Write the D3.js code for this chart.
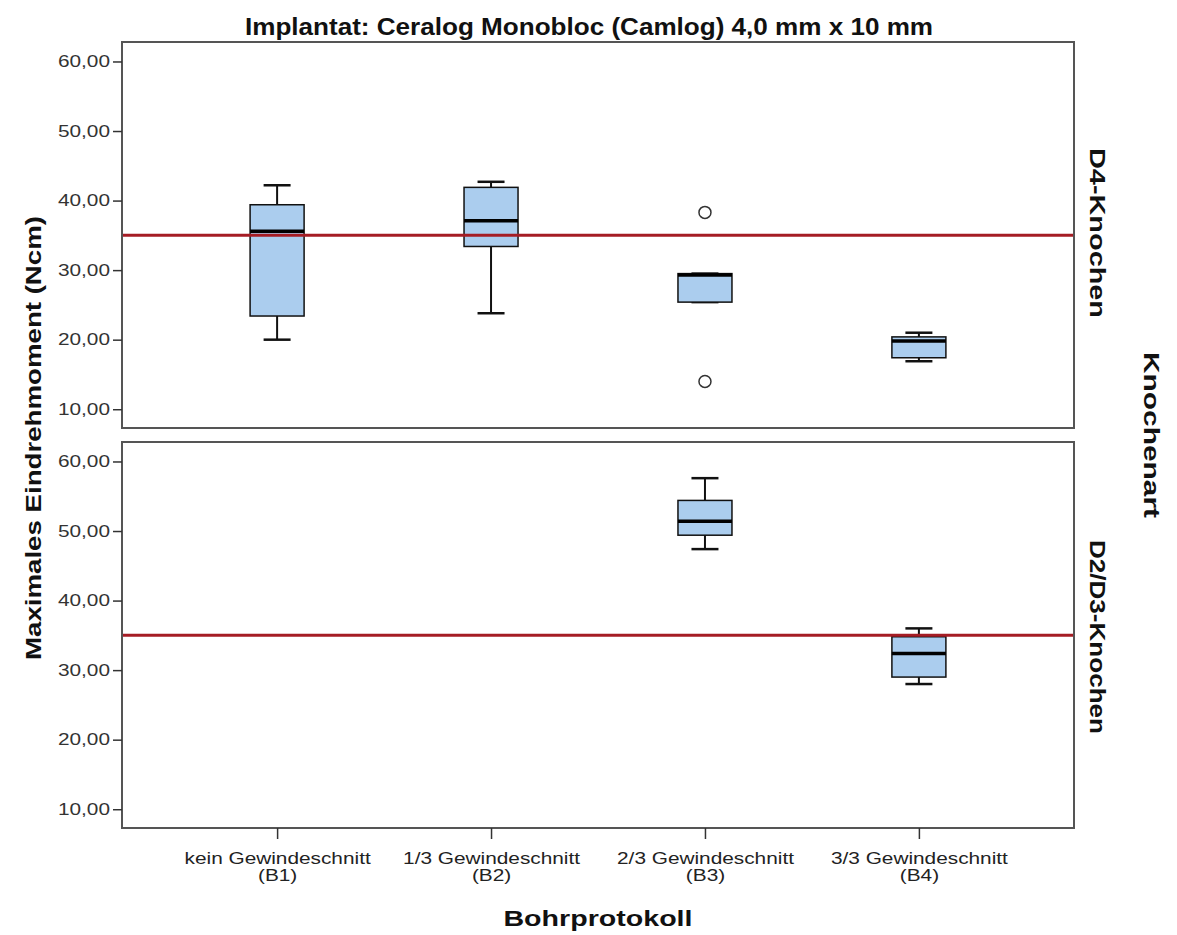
<!DOCTYPE html>
<meta charset="utf-8">
<style>
body { margin: 0; background: #fff; }
svg { font-family: "Liberation Sans", Arial, sans-serif; }
</style>
<body>
<svg width="1177" height="935"></svg>
<script src="https://d3js.org/d3.v7.min.js"></script>
<script>

var categories = ["kein Gewindeschnitt", "1/3 Gewindeschnitt", "2/3 Gewindeschnitt", "3/3 Gewindeschnitt"];
var catCodes = ["(B1)", "(B2)", "(B3)", "(B4)"];
var panelNames = ["D4-Knochen", "D2/D3-Knochen"];
var yTicks = [10, 20, 30, 40, 50, 60];
var refValue = 35;

// D4-Knochen
var d4Low = [20.0, 23.8, 25.4, 16.9];
var d4Q1 = [23.4, 33.4, 25.4, 17.4];
var d4Med = [35.6, 37.1, 29.3, 19.8];
var d4Q3 = [39.4, 41.9, 29.5, 20.4];
var d4High = [42.2, 42.7, 29.5, 21.0];
var d4Outliers = [[], [], [38.3, 14.0], []];

// D2/D3-Knochen
var d23Low = [null, null, 47.4, 28.0];
var d23Q1 = [null, null, 49.4, 29.0];
var d23Med = [null, null, 51.4, 32.4];
var d23Q3 = [null, null, 54.4, 34.8];
var d23High = [null, null, 57.6, 36.0];
var d23Outliers = [[], [], [], []];

var svg = d3.select("svg"),
    left = 122, right = 1074,
    panelTops = [42, 442], panelH = 386;

var x = d3.scalePoint().domain(categories).range([left, right]).padding(0.725);
var boxW = 54;

// the original text is drawn wider than Liberation Sans, stretch it a bit
function stretch(sel, f) {
  sel.each(function() {
    var w = this.getComputedTextLength();
    d3.select(this).attr("textLength", w * f).attr("lengthAdjust", "spacingAndGlyphs");
  });
}

function stats(low, q1, med, q3, high, out) {
  return categories.map(function(c, i) {
    return {cat: c, low: low[i], q1: q1[i], med: med[i], q3: q3[i], high: high[i], out: out[i]};
  });
}
var panelData = [
  stats(d4Low, d4Q1, d4Med, d4Q3, d4High, d4Outliers),
  stats(d23Low, d23Q1, d23Med, d23Q3, d23High, d23Outliers)
];

panelData.forEach(function(data, p) {
  var top = panelTops[p];
  var y = d3.scaleLinear().domain([7.3, 62.8]).range([top + panelH, top]);
  var g = svg.append("g");

  g.append("rect")
      .attr("x", left).attr("y", top)
      .attr("width", right - left).attr("height", panelH)
      .attr("fill", "#fff").attr("stroke", "#555").attr("stroke-width", 2);

  g.append("g")
      .attr("transform", "translate(" + left + ",0)")
      .call(d3.axisLeft(y).tickValues(yTicks).tickSize(9).tickPadding(3)
        .tickFormat(function(d) { return d3.format(".2f")(d).replace(".", ","); }))
      .call(function(a) {
        a.select(".domain").remove();
        a.selectAll(".tick line").attr("stroke", "#333").attr("stroke-width", 1.5);
        a.selectAll(".tick text").attr("font-size", 16).attr("fill", "#333")
          .attr("font-family", "Liberation Sans, Arial, sans-serif")
          .call(stretch, 1.3);
      });

  var boxes = g.selectAll(".box")
      .data(data.filter(function(d) { return d.med != null; }))
      .enter().append("g")
      .attr("class", "box");

  boxes.append("line")
      .attr("x1", function(d) { return x(d.cat); })
      .attr("x2", function(d) { return x(d.cat); })
      .attr("y1", function(d) { return y(d.high); })
      .attr("y2", function(d) { return y(d.low); })
      .attr("stroke", "#111").attr("stroke-width", 2);

  ["high", "low"].forEach(function(k) {
    boxes.append("line")
        .attr("x1", function(d) { return x(d.cat) - boxW / 4; })
        .attr("x2", function(d) { return x(d.cat) + boxW / 4; })
        .attr("y1", function(d) { return y(d[k]); })
        .attr("y2", function(d) { return y(d[k]); })
        .attr("stroke", "#111").attr("stroke-width", 2.5);
  });

  boxes.append("rect")
      .attr("x", function(d) { return x(d.cat) - boxW / 2; })
      .attr("y", function(d) { return y(d.q3); })
      .attr("width", boxW)
      .attr("height", function(d) { return y(d.q1) - y(d.q3); })
      .attr("fill", "#abcdee").attr("stroke", "#111").attr("stroke-width", 1.5);

  boxes.append("line")
      .attr("x1", function(d) { return x(d.cat) - boxW / 2; })
      .attr("x2", function(d) { return x(d.cat) + boxW / 2; })
      .attr("y1", function(d) { return y(d.med); })
      .attr("y2", function(d) { return y(d.med); })
      .attr("stroke", "#000").attr("stroke-width", 3.5);

  boxes.selectAll("circle")
      .data(function(d) { return d.out.map(function(v) { return {cat: d.cat, v: v}; }); })
      .enter().append("circle")
      .attr("cx", function(d) { return x(d.cat); })
      .attr("cy", function(d) { return y(d.v); })
      .attr("r", 6)
      .attr("fill", "#fff").attr("stroke", "#333").attr("stroke-width", 1.5);

  g.append("line")
      .attr("x1", left + 1).attr("x2", right - 1)
      .attr("y1", y(refValue)).attr("y2", y(refValue))
      .attr("stroke", "#a51c24").attr("stroke-width", 3);

  g.append("text")
      .attr("transform", "translate(1090," + (top + panelH / 2 + (p ? 2 : -2)) + ") rotate(90)")
      .attr("text-anchor", "middle")
      .attr("font-size", 22).attr("font-weight", "bold").attr("fill", "#111")
      .attr("textLength", p ? 194 : 170).attr("lengthAdjust", "spacingAndGlyphs")
      .text(panelNames[p]);
});

// x axis
var xa = svg.append("g")
    .attr("transform", "translate(0," + (panelTops[1] + panelH) + ")")
    .call(d3.axisBottom(x).tickSize(11).tickFormat(""));
xa.select(".domain").remove();
xa.selectAll(".tick line").attr("stroke", "#333").attr("stroke-width", 1.5);
xa.selectAll(".tick").append("text")
    .attr("y", 36).attr("text-anchor", "middle")
    .attr("font-size", 16).attr("fill", "#222")
    .text(function(d) { return d; })
    .call(stretch, 1.3);
xa.selectAll(".tick").append("text")
    .attr("y", 53).attr("text-anchor", "middle")
    .attr("font-size", 16).attr("fill", "#222")
    .text(function(d, i) { return catCodes[i]; })
    .call(stretch, 1.3);

svg.append("text")
    .attr("x", 589).attr("y", 35)
    .attr("text-anchor", "middle")
    .attr("font-size", 23).attr("font-weight", "bold").attr("fill", "#111")
    .attr("textLength", 688).attr("lengthAdjust", "spacingAndGlyphs")
    .text("Implantat: Ceralog Monobloc (Camlog) 4,0 mm x 10 mm");

svg.append("text")
    .attr("x", (left + right) / 2).attr("y", 926)
    .attr("text-anchor", "middle")
    .attr("font-size", 22).attr("font-weight", "bold").attr("fill", "#111")
    .text("Bohrprotokoll")
    .call(stretch, 1.3);

svg.append("text")
    .attr("transform", "translate(41,438) rotate(-90)")
    .attr("text-anchor", "middle")
    .attr("font-size", 22).attr("font-weight", "bold").attr("fill", "#111")
    .attr("textLength", 444).attr("lengthAdjust", "spacingAndGlyphs")
    .text("Maximales Eindrehmoment (Ncm)");

svg.append("text")
    .attr("transform", "translate(1144,435) rotate(90)")
    .attr("text-anchor", "middle")
    .attr("font-size", 22).attr("font-weight", "bold").attr("fill", "#111")
    .attr("textLength", 166).attr("lengthAdjust", "spacingAndGlyphs")
    .text("Knochenart");

</script>
</body>
